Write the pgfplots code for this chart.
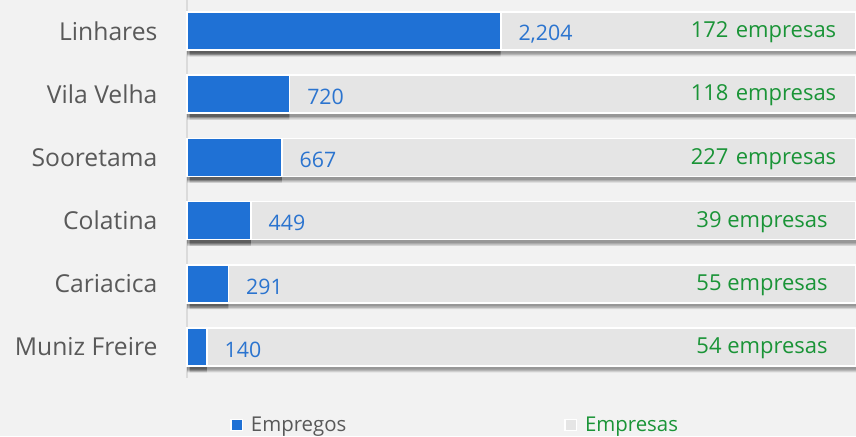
\documentclass[border=0pt]{standalone}
\usepackage{fontspec}
\setmainfont{Open Sans}
\usepackage{pgfplots}
\pgfplotsset{compat=1.18}
\definecolor{bg}{HTML}{F2F2F2}
\definecolor{barblue}{HTML}{1F71D5}
\definecolor{lblblue}{HTML}{2B74CF}
\definecolor{bargray}{HTML}{E5E5E5}
\definecolor{grn}{HTML}{1A9437}
\definecolor{txtgray}{HTML}{595959}
\pgfplotstableread{
y emp empresas
0 2204 4700
1 720 4700
2 667 4700
3 449 4700
4 291 4700
5 140 4700
}\data
\pgfplotsset{
  shad/.style={xbar, bar shift=0pt, forget plot, draw=none, fill=black, fill opacity=#1},
}
\begin{document}
\begin{tikzpicture}
\path[use as bounding box, fill=bg] (0,0) rectangle (642pt,327pt);
\begin{axis}[
  at={(140.25pt,43.5pt)}, anchor=south west,
  width=501.75pt, height=283.5pt, scale only axis,
  xmin=0, xmax=4700, ymin=-0.49, ymax=5.49, y dir=reverse,
  axis x line=none, axis y line*=left,
  y axis line style={draw=black!14, line width=1.5pt, -},
  ytick={0,1,2,3,4,5},
  yticklabels={Linhares,Vila Velha,Sooretama,Colatina,Cariacica,Muniz Freire},
  major tick length=0pt,
  yticklabel style={font=\fontsize{18.5}{20}\selectfont, text=txtgray, anchor=east, inner sep=0pt, xshift=-22pt},
  clip=false,
  legend columns=2,
  legend style={at={(axis description cs:0.0643,-0.125)}, anchor=west, draw=none, fill=none,
    font=\fontsize{15.3}{17}\selectfont, inner sep=0pt,
    /tikz/every odd column/.append style={column sep=4pt},
    /tikz/every even column/.append style={column sep=161.5pt}},
  legend image code/.code={\draw[#1] (0pt,-4pt) rectangle (8.5pt,4.5pt);},
]
\addlegendimage{fill=barblue, draw=white, line width=1pt}
\addlegendentry{\textcolor{txtgray}{Empregos}}
\addlegendimage{fill=bargray, draw=white, line width=1pt}
\addlegendentry{\textcolor{grn}{Empresas}}
% shadows
\addplot[shad=0.12, bar width=30pt, xshift=2pt, yshift=-4pt] table[x=empresas, y=y] {\data};
\addplot[shad=0.14, bar width=28pt, xshift=2pt, yshift=-4pt] table[x=empresas, y=y] {\data};
\addplot[shad=0.17, bar width=26pt, xshift=2pt, yshift=-4pt] table[x=empresas, y=y] {\data};
% Empresas (background bars)
\addplot[xbar, bar shift=0pt, bar width=28.5pt, fill=bargray, draw=white, line width=1.2pt, forget plot]
  table[x=empresas, y=y] {\data};
% shadows of blue bars
\addplot[shad=0.12, bar width=30pt, yshift=-4pt] table[x=emp, y=y] {\data};
\addplot[shad=0.14, bar width=28pt, yshift=-4pt] table[x=emp, y=y] {\data};
\addplot[shad=0.17, bar width=26pt, yshift=-4pt] table[x=emp, y=y] {\data};
% Empregos
\addplot[xbar, bar shift=0pt, bar width=28.5pt, fill=barblue, draw=white, line width=1.2pt, forget plot,
  nodes near coords, point meta=explicit symbolic,
  nodes near coords style={anchor=west, inner sep=0pt, xshift=12.75pt, yshift=-2pt, text=lblblue,
    font=\fontsize{16}{18}\selectfont}]
  coordinates {(2204,0) [2,204] (720,1) [720] (667,2) [667] (449,3) [449] (291,4) [291] (140,5) [140]};
% Empresas labels
\addplot[draw=none, mark=none, forget plot, nodes near coords, point meta=explicit symbolic,
  nodes near coords style={anchor=center, inner sep=0pt, yshift=-1pt, text=grn, font=\fontsize{16.5}{18}\selectfont}]
  coordinates {(4050,0) [172\,\,empresas] (4050,1) [118\,\,empresas] (4050,2) [227\,\,empresas]
               (4040,3) [39 empresas] (4040,4) [55 empresas] (4040,5) [54 empresas]};
\end{axis}
\end{tikzpicture}
\end{document}
